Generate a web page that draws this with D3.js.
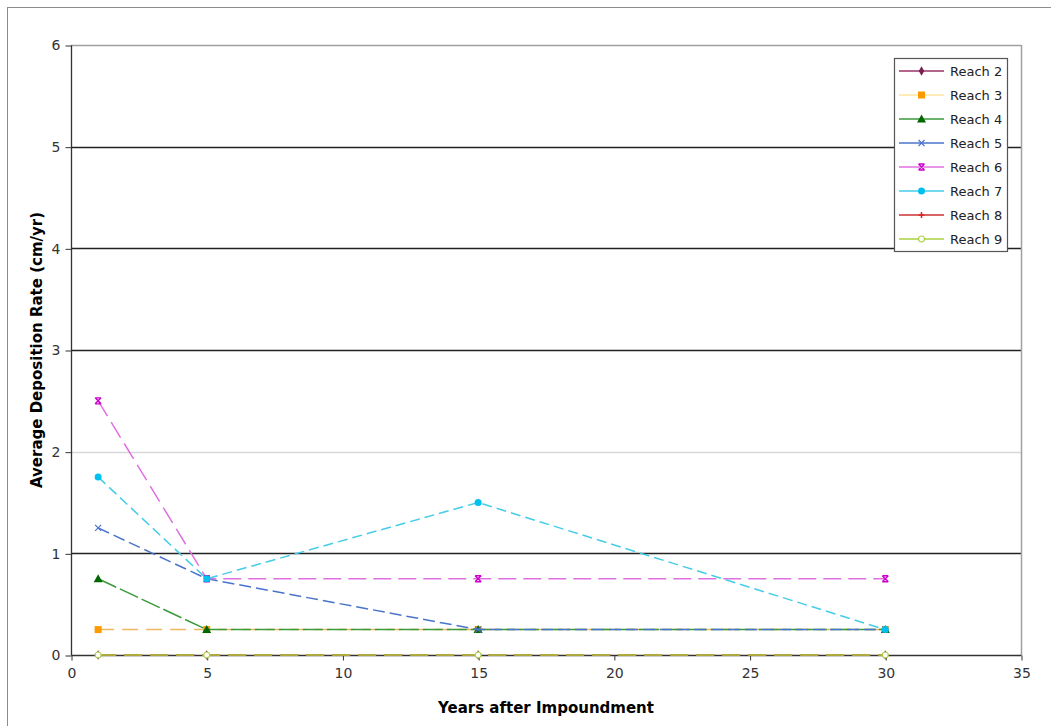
<!DOCTYPE html>
<html><head><meta charset="utf-8">
<script src="https://cdn.jsdelivr.net/npm/d3@7"></script>
<style>body{margin:0;background:#fff}svg{display:block}text{font-family:"DejaVu Sans",Verdana,sans-serif}</style>
</head><body>
<svg id="c" width="1051" height="726"></svg>
<script>
const years = [1, 5, 15, 30];
const seriesNames = ["Reach 2","Reach 3","Reach 4","Reach 5","Reach 6","Reach 7","Reach 8","Reach 9"];
const reach2 = [0, 0, 0, 0];
const reach3 = [0.25, 0.25, 0.25, 0.25];
const reach4 = [0.75, 0.25, 0.25, 0.25];
const reach5 = [1.25, 0.75, 0.25, 0.25];
const reach6 = [2.5, 0.75, 0.75, 0.75];
const reach7 = [1.75, 0.75, 1.5, 0.25];
const reach8 = [0, 0, 0, 0];
const reach9 = [0, 0, 0, 0];
const xTicks = [0,5,10,15,20,25,30,35];
const yTicks = [0,1,2,3,4,5,6];
const xTitle = "Years after Impoundment";
const yTitle = "Average Deposition Rate (cm/yr)";

const values = [reach2,reach3,reach4,reach5,reach6,reach7,reach8,reach9];
const styles = [
  {line:"#993366", mark:"#7a1f4f", shape:"diamond", dash:"18,8"},
  {line:"#EEB860", legendLine:"#FFE4A0", mark:"#FF9900", shape:"square", dash:"16,8"},
  {line:"#3A9A3A", mark:"#006600", shape:"triangle", dash:"20,4"},
  {line:"#4A74CC", mark:"#4A74CC", shape:"x", dash:"12,5"},
  {line:"#E070E0", mark:"#CC00CC", shape:"star", dash:"18,7"},
  {line:"#44CCE8", mark:"#00C0F0", shape:"circle", dash:"10,5"},
  {line:"#CC3333", mark:"#DD2222", shape:"plus", dash:"18,8"},
  {line:"#A8D040", mark:"#A8D040", shape:"ocircle", dash:"18,8"}
];

const svg = d3.select("#c");
svg.append("rect").attr("x",7.5).attr("y",7.5).attr("width",1060).attr("height",740)
  .attr("fill","none").attr("stroke","#8c8c8c").attr("stroke-width",1);

const L=71, R=1021, T=45, B=655;
const x = d3.scaleLinear().domain([0,35]).range([L,R]);
const y = d3.scaleLinear().domain([0,6]).range([B,T]);

const g = svg.append("g");
yTicks.forEach(t=>{
  if(t===0) return;
  let col = "#222";
  if(t===6) col="#a0a0a0";
  if(t===2) col="#d8d8d8";
  g.append("line").attr("x1",L).attr("x2",R).attr("y1",Math.round(y(t))+0.5).attr("y2",Math.round(y(t))+0.5)
   .attr("stroke",col).attr("stroke-width",1.3);
});
g.append("line").attr("x1",R+0.5).attr("x2",R+0.5).attr("y1",T).attr("y2",B).attr("stroke","#a0a0a0").attr("stroke-width",1.5);

const yAxis = d3.axisLeft(y).tickValues(yTicks).tickSize(6).tickPadding(5).tickFormat(d3.format("d"));
const ya = svg.append("g").attr("transform",`translate(${L+0.5},0.5)`).call(yAxis);
const xAxis = d3.axisBottom(x).tickValues(xTicks).tickSize(5).tickPadding(8).tickFormat(d3.format("d"));
const xa = svg.append("g").attr("transform",`translate(0.5,${B+0.5})`).call(xAxis);
[ya,xa].forEach(a=>{
  a.select(".domain").attr("stroke","#333").attr("stroke-width",1.3);
  a.selectAll(".tick line").attr("stroke","#333");
  a.selectAll("text").attr("fill","#333").style("font-size","14px");
});
ya.select(".domain").attr("d",`M0,${B}V${T}`);
xa.select(".domain").attr("d",`M${L},0H${R}`);

svg.append("text").attr("x",(L+R)/2).attr("y",713).attr("text-anchor","middle")
  .style("font-size","15px").style("font-weight","bold").attr("fill","#000").text(xTitle);
svg.append("text").attr("transform",`translate(42,${(T+B)/2}) rotate(-90)`).attr("text-anchor","middle")
  .style("font-size","15px").style("font-weight","bold").attr("fill","#000").text(yTitle);

function drawMarker(sel, shape, col){
  if(shape==="diamond") sel.append("path").attr("d",d3.symbol(d3.symbolDiamond,26)()).attr("fill",col);
  else if(shape==="square") sel.append("rect").attr("x",-3.5).attr("y",-3.5).attr("width",7).attr("height",7).attr("fill",col);
  else if(shape==="triangle") sel.append("path").attr("d","M0,-4.5L4.5,3.5L-4.5,3.5Z").attr("fill",col);
  else if(shape==="x") sel.append("path").attr("d","M-3,-3L3,3M-3,3L3,-3").attr("stroke",col).attr("stroke-width",1.2);
  else if(shape==="star") sel.append("path").attr("d","M-3,-3L3,3M-3,3L3,-3M-3,-3H3M-3,3H3").attr("stroke",col).attr("stroke-width",1.4);
  else if(shape==="circle") sel.append("circle").attr("r",3.5).attr("fill",col);
  else if(shape==="plus") sel.append("path").attr("d","M-3,0H3M0,-3V3").attr("stroke",col).attr("stroke-width",1.5);
  else if(shape==="ocircle") sel.append("circle").attr("r",3).attr("fill","#fff").attr("stroke",col).attr("stroke-width",1.2);
}

const line = d3.line().x(d=>x(d[0])).y(d=>y(d[1]));
const plot = svg.append("g");
values.forEach((vals,i)=>{
  const s = styles[i];
  const pts = years.map((yr,j)=>[yr, vals[j]]);
  plot.append("path").datum(pts).attr("d",line).attr("fill","none")
    .attr("stroke",s.line).attr("stroke-width",1.5).attr("stroke-dasharray",s.dash);
  pts.forEach(p=>{
    const m = plot.append("g").attr("transform",`translate(${x(p[0])},${y(p[1])})`);
    drawMarker(m, s.shape, s.mark);
  });
});

const lg = svg.append("g");
lg.append("rect").attr("x",894.5).attr("y",58.5).attr("width",113).attr("height",193)
  .attr("fill","#fff").attr("stroke","#555").attr("stroke-width",1.2);
seriesNames.forEach((name,i)=>{
  const s = styles[i];
  const yy = 71 + i*24;
  lg.append("line").attr("x1",899).attr("x2",944).attr("y1",yy).attr("y2",yy)
    .attr("stroke",s.legendLine||s.line).attr("stroke-width",1.5);
  const m = lg.append("g").attr("transform",`translate(921.5,${yy})`);
  drawMarker(m, s.shape, s.mark);
  lg.append("text").attr("x",950).attr("y",yy+4.5).style("font-size","13px").attr("fill","#222").text(name);
});
</script>
</body></html>
